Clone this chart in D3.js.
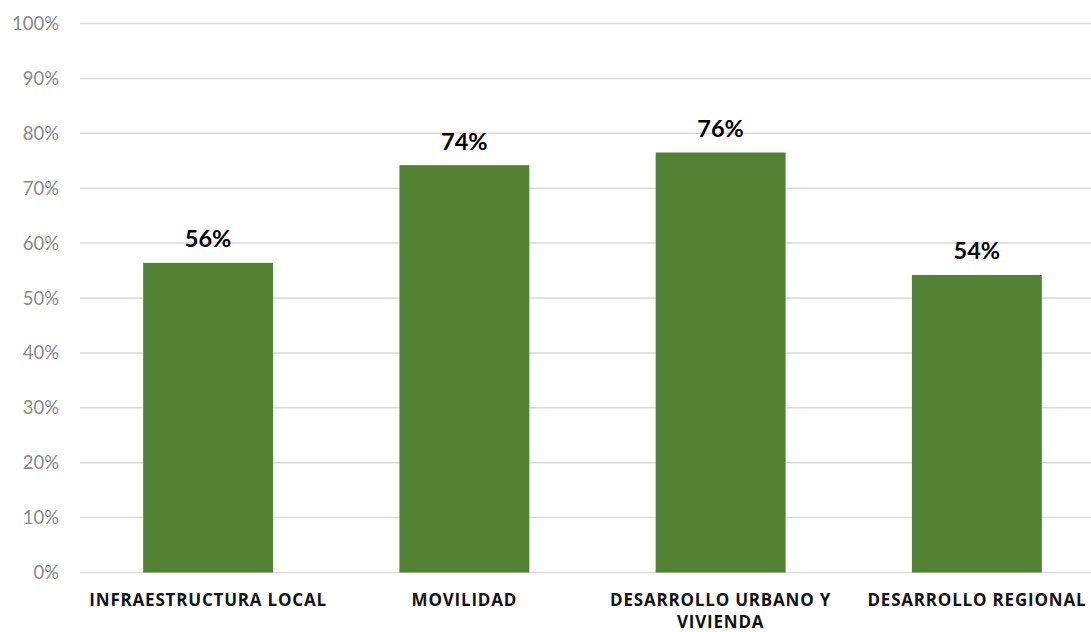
<!DOCTYPE html>
<html><head><meta charset="utf-8">
<script src="https://cdn.jsdelivr.net/npm/d3@7"></script>
<style>body{margin:0;background:#fff}svg{display:block}</style>
</head><body>
<svg id="c" width="1091" height="632"></svg>
<script>
const categories = [["INFRAESTRUCTURA LOCAL"], ["MOVILIDAD"], ["DESARROLLO URBANO Y", "VIVIENDA"], ["DESARROLLO REGIONAL"]];
const values = [0.564, 0.742, 0.765, 0.542];
const valueLabels = ["56%", "74%", "76%", "54%"];
const yTicks = [0, 0.1, 0.2, 0.3, 0.4, 0.5, 0.6, 0.7, 0.8, 0.9, 1.0];

const svg = d3.select("#c");
const x = d3.scaleBand().domain(d3.range(values.length)).range([80, 1105]).paddingInner(0.493).paddingOuter(0.2465);
const y = d3.scaleLinear().domain([0, 1]).range([572.5, 23.5]);

// gridlines
svg.append("g").selectAll("line").data(yTicks).join("line")
  .attr("x1", 80).attr("x2", 1091)
  .attr("y1", d => y(d)).attr("y2", d => y(d))
  .attr("stroke", "#d9d9d9").attr("stroke-width", 1.5);

// y tick labels
svg.append("g").selectAll("text").data(yTicks).join("text")
  .attr("x", 59).attr("y", d => y(d) + 6.5)
  .attr("text-anchor", "end")
  .attr("font-family", "Lato, sans-serif").attr("font-size", 18.5)
  .attr("fill", "#8a8a8a")
  .text(d => d3.format(".0%")(d));

// bars
svg.append("g").selectAll("rect").data(values).join("rect")
  .attr("x", (d, i) => x(i)).attr("width", x.bandwidth())
  .attr("y", d => y(d)).attr("height", d => y(0) - y(d))
  .attr("fill", "#548235");

// value labels
svg.append("g").selectAll("text").data(values).join("text")
  .attr("x", (d, i) => x(i) + x.bandwidth() / 2)
  .attr("y", d => y(d) - 15.5)
  .attr("text-anchor", "middle")
  .attr("font-family", "Lato, sans-serif").attr("font-weight", "bold").attr("font-size", 23.5)
  .attr("fill", "#000")
  .text((d, i) => valueLabels[i]);

// category labels
const cg = svg.append("g").selectAll("text").data(categories).join("text")
  .attr("x", (d, i) => x(i) + x.bandwidth() / 2)
  .attr("y", 605.5)
  .attr("text-anchor", "middle")
  .attr("font-family", "'Open Sans', sans-serif").attr("font-weight", "bold").attr("font-size", 17)
  .attr("letter-spacing", 0.8)
  .attr("fill", "#111");
cg.each(function(d, i) {
  const t = d3.select(this);
  d.forEach((line, j) => {
    t.append("tspan").attr("x", x(i) + x.bandwidth() / 2).attr("dy", j === 0 ? 0 : 22).text(line);
  });
});
</script>
</body></html>
